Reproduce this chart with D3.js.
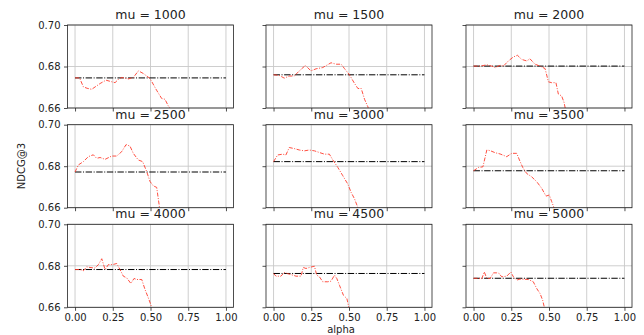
<!DOCTYPE html>
<html>
<head>
<meta charset="utf-8">
<script src="https://cdn.jsdelivr.net/npm/d3@7"></script>
<style>
  body { margin: 0; background: #fff; }
  text { font-family: "DejaVu Sans", sans-serif; fill: #222; }
</style>
</head>
<body>
<div id="chart"></div>
<script>
var width = 644,
    height = 335

// panel titles and baseline (dash-dot) values
var mus = [1000, 1500, 2000, 2500, 3000, 3500, 4000, 4500, 5000]
var baselines = [0.6745, 0.676, 0.6802, 0.6772, 0.6822, 0.6778, 0.6782, 0.6763, 0.674]
var xTicks = [0, 0.25, 0.5, 0.75, 1]
var yTicks = [0.66, 0.68, 0.70]

// red curves (alpha, NDCG@3)
var alpha1000 = [0, 0.03, 0.055, 0.08, 0.11, 0.14, 0.166, 0.205, 0.235, 0.265, 0.29, 0.31, 0.353, 0.386, 0.42, 0.453, 0.497, 0.54, 0.574, 0.596, 0.618, 0.64]
var ndcg1000 = [0.6745, 0.6745, 0.6702, 0.6695, 0.669, 0.6705, 0.6718, 0.6734, 0.6728, 0.6722, 0.674, 0.6747, 0.674, 0.6747, 0.6779, 0.6766, 0.6742, 0.6686, 0.6646, 0.6642, 0.661, 0.659]

var alpha1500 = [0, 0.038, 0.071, 0.104, 0.137, 0.171, 0.211, 0.248, 0.282, 0.326, 0.381, 0.415, 0.448, 0.47, 0.503, 0.537, 0.559, 0.581, 0.603, 0.625, 0.636]
var ndcg1500 = [0.676, 0.6757, 0.6744, 0.6754, 0.6754, 0.6779, 0.6805, 0.6779, 0.6789, 0.6795, 0.6818, 0.6811, 0.6811, 0.679, 0.676, 0.6718, 0.6694, 0.6694, 0.6642, 0.6606, 0.658]

var alpha2000 = [0, 0.044, 0.088, 0.121, 0.143, 0.176, 0.198, 0.231, 0.264, 0.291, 0.319, 0.352, 0.374, 0.407, 0.441, 0.474, 0.496, 0.518, 0.546, 0.562, 0.584, 0.6, 0.61]
var ndcg2000 = [0.6802, 0.6802, 0.6808, 0.6802, 0.6794, 0.6806, 0.6802, 0.6827, 0.6846, 0.6854, 0.6834, 0.6827, 0.6837, 0.6811, 0.6802, 0.679, 0.6726, 0.6722, 0.6722, 0.6667, 0.6658, 0.6626, 0.659]

var alpha2500 = [0, 0.022, 0.055, 0.088, 0.121, 0.143, 0.166, 0.199, 0.243, 0.276, 0.309, 0.338, 0.364, 0.386, 0.419, 0.448, 0.475, 0.497, 0.519, 0.541, 0.559, 0.566]
var ndcg2500 = [0.6772, 0.6806, 0.6822, 0.6846, 0.6855, 0.6838, 0.6842, 0.6833, 0.6849, 0.6849, 0.687, 0.6904, 0.6897, 0.6862, 0.683, 0.6822, 0.6774, 0.6726, 0.6705, 0.6698, 0.6605, 0.659]

var alpha3000 = [0, 0.027, 0.06, 0.082, 0.104, 0.137, 0.171, 0.204, 0.237, 0.271, 0.304, 0.337, 0.37, 0.392, 0.426, 0.459, 0.492, 0.514, 0.537, 0.559, 0.57]
var ndcg3000 = [0.6822, 0.6854, 0.6858, 0.6854, 0.689, 0.6885, 0.6878, 0.6874, 0.6878, 0.6874, 0.6866, 0.6858, 0.6858, 0.6831, 0.6794, 0.6754, 0.6714, 0.6674, 0.6642, 0.66, 0.659]

var alpha3500 = [0, 0.033, 0.062, 0.088, 0.11, 0.143, 0.176, 0.22, 0.253, 0.286, 0.304, 0.326, 0.352, 0.385, 0.419, 0.452, 0.48, 0.502, 0.518, 0.533, 0.54]
var ndcg3500 = [0.6778, 0.6794, 0.6797, 0.6878, 0.6875, 0.6865, 0.6859, 0.6846, 0.6862, 0.6862, 0.683, 0.6794, 0.6765, 0.6749, 0.6725, 0.6693, 0.6656, 0.6661, 0.6629, 0.66, 0.659]

var alpha4000 = [0, 0.033, 0.055, 0.077, 0.099, 0.132, 0.155, 0.177, 0.199, 0.221, 0.25, 0.276, 0.298, 0.32, 0.342, 0.37, 0.391, 0.408, 0.442, 0.464, 0.486, 0.508, 0.515]
var ndcg4000 = [0.6782, 0.6782, 0.6776, 0.6795, 0.6792, 0.6789, 0.6806, 0.6834, 0.6782, 0.6806, 0.6806, 0.6811, 0.6782, 0.675, 0.6742, 0.6715, 0.6739, 0.6734, 0.6734, 0.6685, 0.6645, 0.66, 0.659]

var alpha4500 = [0, 0.016, 0.049, 0.071, 0.093, 0.115, 0.149, 0.182, 0.197, 0.215, 0.237, 0.271, 0.286, 0.304, 0.326, 0.359, 0.381, 0.404, 0.419, 0.437, 0.463, 0.486, 0.499, 0.505]
var ndcg4500 = [0.6763, 0.675, 0.675, 0.6768, 0.6762, 0.6758, 0.675, 0.675, 0.6792, 0.6787, 0.6792, 0.6798, 0.6755, 0.6747, 0.6723, 0.6723, 0.6726, 0.6755, 0.6739, 0.6706, 0.6658, 0.6642, 0.66, 0.659]

var alpha5000 = [0, 0.026, 0.055, 0.071, 0.088, 0.11, 0.132, 0.165, 0.187, 0.22, 0.247, 0.264, 0.286, 0.308, 0.363, 0.396, 0.419, 0.441, 0.458, 0.469, 0.475]
var ndcg5000 = [0.674, 0.674, 0.6738, 0.6771, 0.6739, 0.6739, 0.6766, 0.6766, 0.6747, 0.675, 0.677, 0.6747, 0.6731, 0.6736, 0.6734, 0.6723, 0.669, 0.6666, 0.6634, 0.66, 0.659]

var alphas = [alpha1000, alpha1500, alpha2000, alpha2500, alpha3000, alpha3500, alpha4000, alpha4500, alpha5000]
var ndcgs = [ndcg1000, ndcg1500, ndcg2000, ndcg2500, ndcg3000, ndcg3500, ndcg4000, ndcg4500, ndcg5000]

// panel geometry
var colLeft = [67.5, 266, 466],
    panelW = 166,
    rowTop = [25, 124.7, 224.3],
    panelH = 83

var svg = d3.select('#chart')
  .append('svg')
  .attr('width', width)
  .attr('height', height)

var x = d3.scaleLinear().domain([-0.05, 1.05]).range([0, panelW])
var y = d3.scaleLinear().domain([0.66, 0.70]).range([panelH, 0])

mus.forEach(function(mu, i) {
  var row = Math.floor(i / 3), col = i % 3
  var g = svg.append('g')
      .attr('transform', 'translate(' + colLeft[col] + ',' + rowTop[row] + ')')

  // grid
  g.selectAll('.gx').data(xTicks).enter().append('line')
      .attr('x1', d => x(d)).attr('x2', d => x(d))
      .attr('y1', 0).attr('y2', panelH)
      .attr('stroke', '#c8c8c8').attr('stroke-width', 0.9)
  g.selectAll('.gy').data(yTicks).enter().append('line')
      .attr('x1', 0).attr('x2', panelW)
      .attr('y1', d => y(d)).attr('y2', d => y(d))
      .attr('stroke', '#c8c8c8').attr('stroke-width', 0.9)

  g.append('clipPath').attr('id', 'clip' + i)
    .append('rect').attr('width', panelW).attr('height', panelH)

  // baseline
  g.append('line')
      .attr('x1', x(0)).attr('x2', x(1))
      .attr('y1', y(baselines[i])).attr('y2', y(baselines[i]))
      .attr('stroke', '#000').attr('stroke-width', 1)
      .attr('stroke-dasharray', '6.4,1.6,1,1.6')

  var pts = alphas[i].map((a, k) => [a, ndcgs[i][k]])
  g.append('path')
      .datum(pts)
      .attr('clip-path', 'url(#clip' + i + ')')
      .attr('fill', 'none')
      .attr('stroke', '#ff3b2b')
      .attr('stroke-width', 0.9)
      .attr('stroke-dasharray', '4,1.5,1,1.5')
      .attr('d', d3.line().x(d => x(d[0])).y(d => y(d[1])))

  // axes
  var xAxis = d3.axisBottom(x).tickValues(xTicks).tickSizeOuter(0).tickSize(3.5).tickPadding(3.5)
      .tickFormat(row === 2 ? d3.format('.2f') : '')
  var yAxis = d3.axisLeft(y).tickValues(yTicks).tickSizeOuter(0).tickSize(3.5).tickPadding(3.5)
      .tickFormat(col === 0 ? d3.format('.2f') : '')
  var gx = g.append('g').attr('transform', 'translate(0,' + panelH + ')').call(xAxis)
  var gy = g.append('g').call(yAxis)
  ;[gx, gy].forEach(function(a) {
    a.select('.domain').remove()
    a.selectAll('line').attr('stroke', '#222').attr('stroke-width', 0.8)
    a.selectAll('text').attr('font-size', 10).style('font-family', '"DejaVu Sans", sans-serif').attr('fill', '#222')
  })

  // frame
  g.append('rect')
      .attr('width', panelW).attr('height', panelH)
      .attr('fill', 'none').attr('stroke', '#222').attr('stroke-width', 0.8)

  g.append('text')
      .attr('x', panelW / 2).attr('y', -6)
      .attr('text-anchor', 'middle')
      .attr('font-size', 12.5)
      .text('mu = ' + mu)
})

svg.append('text')
    .attr('transform', 'translate(25,166) rotate(-90)')
    .attr('text-anchor', 'middle')
    .attr('font-size', 10)
    .text('NDCG@3')

svg.append('text')
    .attr('x', 341).attr('y', 333)
    .attr('text-anchor', 'middle')
    .attr('font-size', 10)
    .text('alpha')
</script>
</body>
</html>
